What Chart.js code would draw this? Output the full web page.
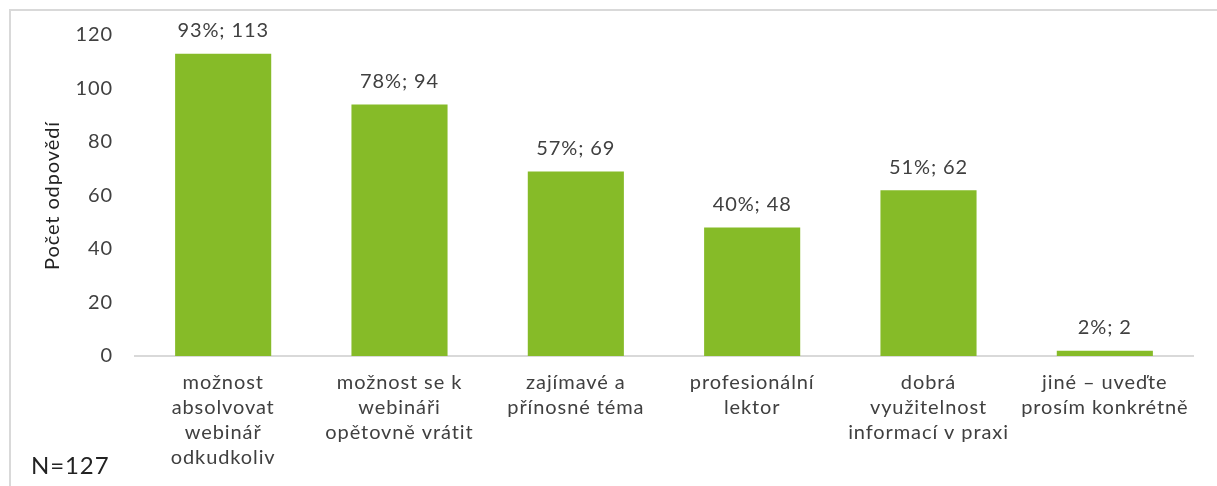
<!DOCTYPE html>
<html>
<head>
<meta charset="utf-8">
<script src="https://cdn.jsdelivr.net/npm/chart.js@4"></script>
<style>
  html, body { margin: 0; padding: 0; background: #fff; }
  #wrap { position: relative; width: 1217px; height: 486px; }
</style>
</head>
<body>
<div id="wrap"><canvas id="answersChart" width="1217" height="486"></canvas></div>
<script>
const categories = [
  ["možnost", "absolvovat", "webinář", "odkudkoliv"],
  ["možnost se k", "webináři", "opětovně vrátit"],
  ["zajímavé a", "přínosné téma"],
  ["profesionální", "lektor"],
  ["dobrá", "využitelnost", "informací v praxi"],
  ["jiné – uveďte", "prosím konkrétně"]
];
const counts = [113, 94, 69, 48, 62, 2];
const percents = [93, 78, 57, 40, 51, 2];
const yTicks = [0, 20, 40, 60, 80, 100, 120];
const sampleNote = "N=127";

const textColor = "#404040";
const fontFamily = "Lato, 'Open Sans', sans-serif";

// the source text looks a bit stretched, so widen it a little
const spacingPlugin = {
  id: "spacing",
  beforeUpdate(chart) { chart.ctx.letterSpacing = "0.9px"; },
  beforeDraw(chart) { chart.ctx.letterSpacing = "0.9px"; }
};

// labels above bars + frame + N note
const extrasPlugin = {
  id: "extras",
  afterDatasetsDraw(chart) {
    const ctx = chart.ctx;
    const meta = chart.getDatasetMeta(0);
    ctx.save();
    ctx.font = "20px " + fontFamily;
    ctx.fillStyle = textColor;
    ctx.textAlign = "center";
    ctx.textBaseline = "middle";
    meta.data.forEach((bar, i) => {
      ctx.fillText(percents[i] + "%; " + counts[i], bar.x, bar.y - 23);
    });

    // frame
    ctx.strokeStyle = "#d9d9d9";
    ctx.lineWidth = 2;
    ctx.beginPath();
    ctx.moveTo(10, 486);
    ctx.lineTo(10, 10);
    ctx.lineTo(1217, 10);
    ctx.stroke();

    ctx.font = "24px " + fontFamily;
    ctx.fillStyle = "#222";
    ctx.textAlign = "left";
    ctx.fillText(sampleNote, 31, 466);
    ctx.restore();
  }
};

const ctx = document.getElementById("answersChart").getContext("2d");
const chart = new Chart(ctx, {
  type: "bar",
  data: {
    labels: categories,
    datasets: [
      {
        data: counts,
        backgroundColor: "#86bb28",
        barPercentage: 0.545,
        categoryPercentage: 1.0
      }
    ]
  },
  options: {
    responsive: false,
    animation: false,
    layout: { padding: { top: 35, right: 24, bottom: 0, left: 0 } },
    plugins: {
      legend: { display: false },
      tooltip: { enabled: false }
    },
    scales: {
      x: {
        grid: { display: false },
        border: { color: "#d9d9d9", width: 2 },
        ticks: {
          color: textColor,
          font: { family: fontFamily, size: 20, lineHeight: 25 / 20 },
          padding: 6,
          maxRotation: 0,
          autoSkip: false
        },
        afterFit(scale) { scale.height = 130; }
      },
      y: {
        min: 0,
        max: 120,
        grid: { display: false },
        border: { display: false },
        afterBuildTicks(scale) { scale.ticks = yTicks.map(v => ({ value: v })); },
        ticks: {
          color: textColor,
          font: { family: fontFamily, size: 20 },
          padding: 14
        },
        title: {
          display: true,
          text: "Počet odpovědí",
          color: "#222",
          font: { family: fontFamily, size: 20 },
          padding: { top: 41, bottom: 0 }
        },
        afterFit(scale) { scale.width = 135; }
      }
    }
  },
  plugins: [spacingPlugin, extrasPlugin]
});
</script>
</body>
</html>
